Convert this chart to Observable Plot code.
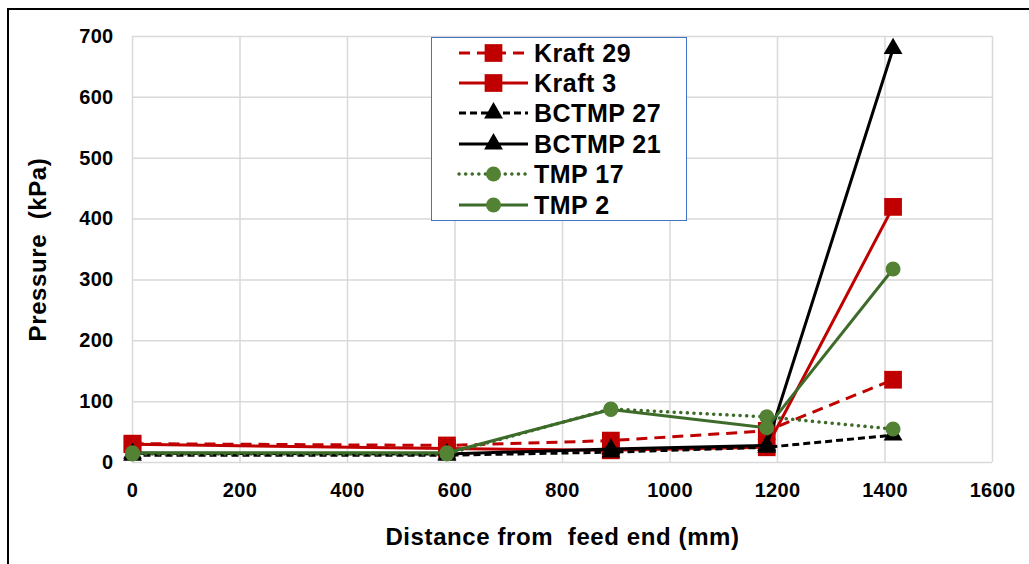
<!DOCTYPE html>
<html><head><meta charset="utf-8">
<script src="https://cdn.jsdelivr.net/npm/d3@7"></script>
<script src="https://cdn.jsdelivr.net/npm/@observablehq/plot@0.6"></script>
<style>
html,body{margin:0;padding:0;background:#fff;overflow:hidden;}
#wrap{position:relative;width:1029px;height:564px;font-family:"Liberation Sans",Arial,sans-serif;}
#frame{position:absolute;left:7px;top:8px;width:1100px;height:600px;border:2px solid #000;}
#chart{position:absolute;left:0;top:0;}
#chart svg text{font-weight:bold;fill:#000;}
#chart g[aria-label="x-axis tick label"] text, #chart g[aria-label="y-axis tick label"] text{font-size:20px;letter-spacing:0.3px;}
#chart g[aria-label="x-axis label"] text, #chart g[aria-label="y-axis label"] text{font-size:24px;letter-spacing:0.6px;white-space:pre;}
#legend{position:absolute;left:431px;top:37px;width:256px;height:184px;border:1.5px solid #4472C4;background:#fff;box-sizing:border-box;}
#legend .row{position:absolute;left:0;height:30px;display:flex;align-items:center;}
#legend .lab{font-weight:bold;font-size:25px;letter-spacing:0.5px;color:#000;margin-left:6px;}
</style></head>
<body><div id="wrap"><div id="frame"></div><div id="chart"></div><div id="legend"></div></div>
<script>
const distances = [0, 585, 890, 1180, 1415];
const seriesNames = ["Kraft 29", "Kraft 3", "BCTMP 27", "BCTMP 21", "TMP 17", "TMP 2"];
const kraft29 = [31, 28, 36, 52, 136];
const kraft3 = [30, 23, 20, 25, 420];
const bctmp27 = [12, 12, 17, 25, 45];
const bctmp21 = [15, 14, 22, 28, 680];
const tmp17 = [14, 14, 88, 75, 55];
const tmp2 = [16, 16, 87, 57, 318];
const xTicks = [0, 200, 400, 600, 800, 1000, 1200, 1400, 1600];
const yTicks = [0, 100, 200, 300, 400, 500, 600, 700];

const styles = {
  "Kraft 29": {stroke:"#C00000", fill:"#C00000", dash:"11,7", symbol:"square", r:10, cap:"butt"},
  "Kraft 3":  {stroke:"#C00000", fill:"#C00000", dash:null, symbol:"square", r:10, cap:"butt"},
  "BCTMP 27": {stroke:"#000000", fill:"#000000", dash:"7,4", symbol:"triangle", r:7, cap:"butt"},
  "BCTMP 21": {stroke:"#000000", fill:"#000000", dash:null, symbol:"triangle", r:7, cap:"butt"},
  "TMP 17":   {stroke:"#3D6B2A", fill:"#548235", dash:"0.1,6.5", symbol:"circle", r:7.5, cap:"round"},
  "TMP 2":    {stroke:"#3D6B2A", fill:"#548235", dash:null, symbol:"circle", r:7.5, cap:"butt"}
};
const values = [kraft29, kraft3, bctmp27, bctmp21, tmp17, tmp2];
const data = seriesNames.map((name, i) => distances.map((d, j) => ({name, x: d, y: values[i][j]})));

const marks = [
  Plot.gridX(xTicks, {stroke:"#d9d9d9", strokeOpacity:1, strokeWidth:1.5}),
  Plot.gridY(yTicks, {stroke:"#d9d9d9", strokeOpacity:1, strokeWidth:1.5}),
  Plot.axisX(xTicks, {tickSize:0, tickPadding:20, tickFormat:d3.format("d"), label:"Distance from  feed end (mm)", labelAnchor:"center", labelArrow:"none", labelOffset:82}),
  Plot.axisY(yTicks, {tickSize:0, tickPadding:19, tickFormat:d3.format("d"), label:"Pressure  (kPa)", labelAnchor:"center", labelArrow:"none", labelOffset:104})
];
data.forEach((rows, i) => {
  const s = styles[seriesNames[i]];
  marks.push(Plot.line(rows, {x:"x", y:"y", stroke:s.stroke, strokeWidth: s.cap==="round"?3.5:3, strokeDasharray:s.dash, strokeLinecap:s.cap}));
  marks.push(Plot.dot(rows, {x:"x", y:"y", symbol:s.symbol, r:s.r, fill:s.fill, stroke:"none"}));
});

const plot = Plot.plot({
  width:1029, height:564,
  marginLeft:132, marginRight:37, marginTop:36, marginBottom:102,
  style:{fontFamily:'"Liberation Sans", Arial, sans-serif', background:"transparent"},
  x:{domain:[0,1600]},
  y:{domain:[0,700]},
  marks
});
document.getElementById("chart").appendChild(plot);

// legend
const leg = document.getElementById("legend");
const rowTops = [0, 30, 60, 91, 121, 152];
seriesNames.forEach((name, i) => {
  const s = styles[name];
  const row = document.createElement("div");
  row.className = "row";
  row.style.top = rowTops[i] + "px";
  const svg = d3.create("svg").attr("width", 96).attr("height", 30);
  svg.append("line").attr("x1", 27).attr("x2", 96).attr("y1", 15).attr("y2", 15)
    .attr("stroke", s.stroke).attr("stroke-width", s.cap==="round"?3.5:3)
    .attr("stroke-dasharray", s.dash).attr("stroke-linecap", s.cap);
  const sym = {square:d3.symbolSquare, triangle:d3.symbolTriangle, circle:d3.symbolCircle}[s.symbol];
  svg.append("path").attr("transform","translate(61.5,15)")
    .attr("d", d3.symbol(sym, Math.PI*s.r*s.r)()).attr("fill", s.fill);
  row.appendChild(svg.node());
  const lab = document.createElement("span");
  lab.className = "lab";
  lab.textContent = name;
  row.appendChild(lab);
  leg.appendChild(row);
});
</script></body></html>
